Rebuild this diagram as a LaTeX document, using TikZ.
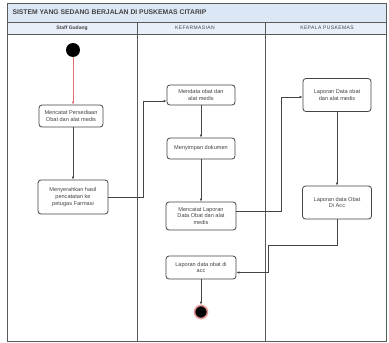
\documentclass[tikz,border=0pt]{standalone}
\usepackage{fontspec}
\setmainfont{Liberation Sans}
\usetikzlibrary{arrows.meta}
\definecolor{barblue}{HTML}{DCE7F5}
\definecolor{headblue}{HTML}{E8EFF9}
\definecolor{framegray}{HTML}{5A5A5A}
\definecolor{inkgray}{HTML}{444444}
\definecolor{startred}{HTML}{E07070}
\tikzset{
  actbox/.style={draw=inkgray, line width=0.8pt, rounded corners=3pt, fill=white,
    align=center, inner sep=1pt, text=inkgray,
    font=\fontsize{5.6}{6.8}\selectfont},
  flow/.style={draw=inkgray, line width=0.7pt, -{Latex[length=3pt,width=2.6pt]}},
  link/.style={draw=inkgray, line width=0.7pt},
  lane/.style={draw=framegray, line width=0.9pt},
  headtext/.style={text=inkgray, font=\fontsize{5}{6}\selectfont\addfontfeatures{LetterSpace=8}},
}
\begin{document}
\begin{tikzpicture}[x=1pt,y=-1pt]
\useasboundingbox (0,0) rectangle (389,343);
% swimlane frame
\fill[white] (0,0) rectangle (389,343);
\fill[barblue] (7,3) rectangle (386,22);
\fill[headblue] (7,22) rectangle (386,34);
\draw[lane] (7,3) rectangle (386,341);
\draw[lane] (7,22) -- (386,22);
\draw[lane] (7,34) -- (386,34);
\draw[lane] (137,22) -- (137,341);
\draw[lane] (265,22) -- (265,341);
\node[anchor=west, text=inkgray, font=\fontsize{6.8}{7.5}\selectfont\bfseries] (title) at (9,12.5)
  {SISTEM YANG SEDANG BERJALAN DI PUSKEMAS CITARIP};
\node[headtext, font=\fontsize{5}{6}\selectfont\bfseries] (h1) at (72,28) {Staff Gudang};
\node[headtext] (h2) at (195,28) {KEFARMASIAN};
\node[headtext] (h3) at (327,28) {KEPALA PUSKEMAS};

% Staff Gudang lane
\node[circle, fill=black, minimum size=14pt, inner sep=0pt] (start) at (73,50) {};
\node[actbox, minimum width=64pt, minimum height=22pt] (b1) at (71,116)
  {Mencatat Persediaan\\Obat dan alat medis};
\node[actbox, minimum width=70pt, minimum height=34pt] (b2) at (73,197)
  {Menyerahkan hasil\\pencatatan ke\\petugas Farmasi};

% Kefarmasian lane
\node[actbox, minimum width=68pt, minimum height=20pt] (b3) at (201,95)
  {Mendata obat dan\\alat medis};
\node[actbox, minimum width=68pt, minimum height=21pt] (b4) at (201,148.5)
  {Menyimpan dokumen};
\node[actbox, minimum width=70pt, minimum height=28pt] (b5) at (201,216)
  {Mencatat Laporan\\Data Obat dan alat\\medis};
\node[actbox, minimum width=70pt, minimum height=23pt] (b6) at (201,267.5)
  {Laporan data obat di\\acc};
\node[circle, draw=startred!70, line width=1.6pt, fill=black, minimum size=13pt, inner sep=0pt] (end) at (201,312) {};

% Kepala Puskemas lane
\node[actbox, minimum width=68pt, minimum height=33pt] (b7) at (337,95)
  {Laporan Data obat\\dan alat medis};
\node[actbox, minimum width=69pt, minimum height=33pt] (b8) at (337,202.5)
  {Laporan data Obat\\Di Acc};

% control flow
\coordinate (c1) at (143,101);
\coordinate (c2) at (281,97);
\coordinate (c3) at (268,245);
\draw[flow, draw=startred] (start) -- (start |- b1.north);
\draw[flow] (b1.south -| start) -- (b2.north -| start);
\draw[link] (b2.east) -| (c1);
\draw[flow] (c1) -- (c1 -| b3.west);
\draw[flow] (b3) -- (b4);
\draw[flow] (b4) -- (b5);
\draw[link] ([yshift=5pt]b5.east) -| (c2);
\draw[flow] (c2) -- (c2 -| b7.west);
\draw[flow] (b7) -- (b8);
\draw[link] (b8.south) |- (c3);
\draw[flow] (c3) |- ([yshift=-5pt]b6.east);
\draw[flow] (b6) -- (end);
\end{tikzpicture}
\end{document}
